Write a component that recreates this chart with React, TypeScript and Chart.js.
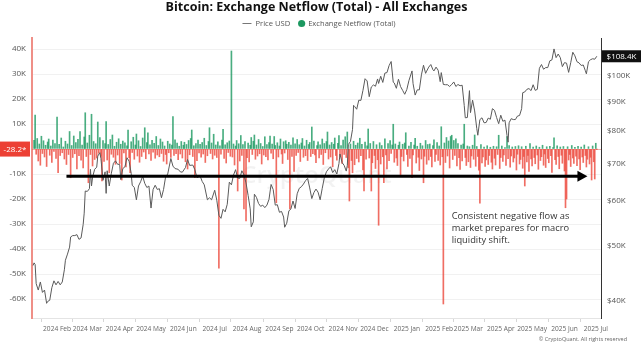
import React, { useEffect, useRef } from "react";
import { Chart, registerables } from "chart.js";

Chart.register(...registerables);

const FONT = "'Open Sans', 'Noto Sans', sans-serif";

const TITLE = "Bitcoin: Exchange Netflow (Total) - All Exchanges";
const LEGEND_PRICE = "Price USD";
const LEGEND_FLOW = "Exchange Netflow (Total)";
const NOTE_LINES = ["Consistent negative flow as", "market prepares for macro", "liquidity shift."];
const COPYRIGHT = "\u00A9 CryptoQuant. All rights reserved";
const WATERMARK = "CryptoQuant";

const X_START = "2024-01-08";
const X_END = "2025-07-06";
const monthTickDates = [
  "2024-02-01", "2024-03-01", "2024-04-01", "2024-05-01", "2024-06-01", "2024-07-01",
  "2024-08-01", "2024-09-01", "2024-10-01", "2024-11-01", "2024-12-01", "2025-01-01",
  "2025-02-01", "2025-03-01", "2025-04-01", "2025-05-01", "2025-06-01", "2025-07-01",
];
const monthTickLabels = [
  "2024 Feb", "2024 Mar", "2024 Apr", "2024 May", "2024 Jun", "2024 Jul",
  "2024 Aug", "2024 Sep", "2024 Oct", "2024 Nov", "2024 Dec", "2025 Jan",
  "2025 Feb", "2025 Mar", "2025 Apr", "2025 May", "2025 Jun", "2025 Jul",
];
const flowTicksK = [-60, -50, -40, -30, -20, -10, 0, 10, 20, 30, 40];
const flowRangeK = [-67.6, 44.4];
const priceTicksK = [40, 50, 60, 70, 80, 90, 100];
const priceRangeK = [37.2, 116.8];

const latestFlowK = -0.0282;
const latestFlowLabel = "-28.2*";
const latestPriceK = 108.4;
const latestPriceLabel = "$108.4K";

const arrowFrom = { date: "2024-02-10", k: -10.9 };
const arrowTo = { date: "2025-06-23", k: -10.9 };
const noteAnchor = { date: "2025-02-13", k: -26.8 };

// Exchange netflow, daily, in thousands of BTC, starting at flowStartDate
const flowStartDate = "2024-01-10";
const netflowK = [
  3.5, 13.6, -2.1, 4.2, -4.8, 2.0, -6.5, 5.1, -1.8, 3.3,
  -3.2, 1.5, -7.0, 2.8, 4.0, -2.5, 1.2, -5.4, 3.6, -1.0,
  2.2, -3.8, 12.8, -9.5, 1.9, -2.6, 4.4, -1.5, 0.8, -4.0,
  3.1, -6.2, 2.0, -2.2, 7.0, -11.5, 1.4, -3.4, 5.2, -1.9,
  2.6, -8.0, 3.9, -2.7, 7.0, -4.5, 1.6, -7.6, 4.8, 14.5,
  -3.0, 2.4, -13.5, 5.5, -2.2, 13.9, -6.8, 3.0, -4.2, 2.1,
  -3.6, 10.8, -1.7, 4.6, -2.9, -12.8, 3.4, -5.0, 2.2, 11.0,
  -4.4, 1.8, -9.5, 3.8, -2.1, 5.6, -3.3, 1.1, -6.1, 2.7,
  -2.4, 4.1, -5.8, 1.9, -12.4, 3.2, -1.6, 2.5, -7.2, 1.3,
  7.6, -3.5, -9.5, 2.9, -1.4, 4.7, -4.1, 1.6, 6.0, -2.8,
  3.3, -5.3, 1.0, -3.0, 4.4, -1.2, 8.5, -3.9, 2.6, 6.5,
  -2.0, 1.7, -4.6, 3.5, -1.3, 2.3, -3.7, 5.0, -2.4, 1.4,
  -3.1, 4.0, -1.8, 2.8, -4.9, 1.2, -2.2, -6.0, 3.1, -1.5,
  2.0, -3.4, 1.6, 13.0, -2.6, 3.7, -1.9, 2.4, -4.3, 1.1,
  -2.0, 3.0, -3.6, 1.5, 2.7, -5.1, 1.8, -8.0, 3.4, -2.3,
  4.2, 7.6, -3.0, 1.3, -11.5, 2.2, -4.7, 3.6, -1.6, 1.9,
  -3.3, 2.6, -2.0, 4.3, -5.4, 1.4, -2.7, 3.0, 8.5, -1.8,
  2.4, -4.0, 5.9, -2.5, 1.6, -3.4, 2.9, -47.7, 1.3, -2.1,
  3.6, 7.9, -3.8, 1.7, -5.6, 2.5, -1.4, 3.2, -2.9, 39.2,
  -3.2, 2.0, -6.4, 1.2, 3.4, -16.8, 2.1, -4.8, 5.4, -2.6,
  1.8, -24.0, 3.0, -28.8, -3.5, 2.4, -5.2, 1.5, 4.6, -2.2,
  3.1, 5.6, -4.1, 1.6, -2.8, 3.8, -1.9, 2.2, -6.0, 1.0,
  -2.4, 4.9, -3.1, 1.8, -4.4, 2.6, 5.2, -1.7, 2.0, -3.9,
  5.0, 1.4, -21.5, 2.5, -3.2, 1.2, 4.0, -2.0, -5.8, 2.9,
  -1.6, 3.3, 1.9, -4.2, 2.7, -24.0, 1.6, -3.0, 4.5, -9.0,
  2.1, -2.6, 3.8, -1.4, 1.7, -5.0, 2.4, 4.2, -3.3, 1.2,
  -2.7, 3.5, -4.6, 1.8, 2.6, -3.0, 8.8, -1.9, 3.2, -2.4,
  -5.5, 1.4, 2.9, -3.6, 1.7, -2.2, 4.0, -6.2, 2.2, -1.5,
  3.0, 6.8, -4.0, 1.6, -3.2, 2.6, -7.1, 1.9, 4.4, -2.6,
  -4.5, 2.3, 5.4, -3.0, 1.4, -5.8, 3.6, -2.2, 4.9, -3.4,
  6.8, -7.5, -20.8, 2.0, -4.6, -9.5, 3.1, -6.3, 1.5, -3.8,
  2.4, -5.2, 4.3, -2.7, 1.9, -8.4, -16.8, 2.8, -4.1, 1.3,
  8.0, -3.6, 2.2, -16.8, -5.5, 3.0, -2.6, -7.8, 1.7, -4.3,
  -30.5, 2.5, -6.0, 1.4, -3.1, -13.5, 4.1, -2.4, -8.0, 2.2,
  -4.7, 3.4, -1.8, 1.6, 9.9, -5.3, 2.0, -3.6, -6.6, 1.5,
  2.8, -10.8, -3.0, 1.9, -4.8, 2.4, 6.5, -2.2, -7.0, 1.2,
  -3.8, 2.7, -11.5, -2.4, 1.6, 4.3, -5.6, 1.1, -3.3, -8.6,
  2.3, -4.0, 1.3, -13.5, -2.9, 3.4, -6.1, 1.8, -4.4, 2.0,
  -3.0, -7.2, 1.4, 3.7, -5.0, -2.2, 2.6, -4.6, 1.2, -6.4,
  8.9, -3.1, -62.0, 2.4, -5.4, 4.6, -2.8, 3.2, -7.6, 5.0,
  5.5, -4.2, 3.4, -2.6, 4.1, -6.8, 2.2, -3.5, -8.2, 1.6,
  -4.8, 2.0, 9.9, -3.4, -6.6, 1.2, -5.1, 0.9, -7.4, -2.8,
  1.5, -4.1, 5.6, -6.9, 1.0, -3.0, -8.5, -21.7, 1.8, -5.6,
  -3.2, 0.8, -7.0, -4.4, 1.3, -6.2, -2.6, 0.7, -5.3, -8.0,
  1.1, -3.7, -6.4, 0.9, -2.2, 5.5, -7.8, -3.4, 1.2, -5.0,
  -2.4, 0.6, -6.6, 5.0, -3.9, 1.4, -7.3, -2.8, 0.8, -5.2,
  -3.6, 1.0, -8.4, -2.1, 1.3, -6.0, -4.2, 0.9, -7.7, -3.0,
  -14.8, 1.1, -5.2, -2.6, -9.0, 2.2, -4.0, -6.8, 0.8, -3.4,
  -5.9, 1.2, -2.4, -8.1, 0.7, -4.6, -3.1, 1.5, -6.5, -2.0,
  -7.4, 0.9, -3.8, -5.5, 1.1, -2.7, -9.4, 0.6, 4.5, -4.3,
  -6.2, 1.3, -3.0, -7.9, 0.8, -2.5, -5.7, 1.0, -8.8, -23.5,
  -20.0, 0.9, -4.4, -2.2, -7.0, 1.4, -3.6, -5.8, 0.7, -2.9,
  -6.7, 1.1, -4.0, -8.3, 0.8, -3.2, -5.4, 1.6, -2.6, -7.2,
  -4.1, 0.9, -6.0, -3.3, -12.4, 1.2, -5.1, -12.0, 2.3, -0.0282,
];

// BTC price, thousands of USD
const priceUSDK: [string, number][] = [
  ["2024-01-09", 46.1], ["2024-01-10", 46.6], ["2024-01-11", 46.3], ["2024-01-12", 42.8], ["2024-01-14", 41.7],
  ["2024-01-16", 43.1], ["2024-01-18", 41.3], ["2024-01-20", 41.7], ["2024-01-22", 39.5], ["2024-01-23", 39.8],
  ["2024-01-25", 40.0], ["2024-01-27", 42.1], ["2024-01-29", 43.3], ["2024-01-31", 42.6], ["2024-02-02", 43.2],
  ["2024-02-04", 42.6], ["2024-02-06", 43.1], ["2024-02-08", 45.3], ["2024-02-09", 47.1], ["2024-02-11", 48.3],
  ["2024-02-13", 49.7], ["2024-02-14", 51.8], ["2024-02-16", 52.1], ["2024-02-18", 52.1], ["2024-02-20", 52.3],
  ["2024-02-22", 51.3], ["2024-02-24", 51.6], ["2024-02-26", 54.5], ["2024-02-27", 57.1], ["2024-02-28", 62.5],
  ["2024-03-01", 62.4], ["2024-03-03", 63.1], ["2024-03-04", 68.3], ["2024-03-05", 63.8], ["2024-03-06", 66.1],
  ["2024-03-08", 68.3], ["2024-03-10", 68.9], ["2024-03-11", 72.1], ["2024-03-13", 73.1], ["2024-03-14", 71.4],
  ["2024-03-16", 65.3], ["2024-03-18", 67.6], ["2024-03-19", 61.9], ["2024-03-20", 67.9], ["2024-03-22", 63.8],
  ["2024-03-24", 67.2], ["2024-03-26", 70.0], ["2024-03-28", 70.7], ["2024-03-30", 69.7], ["2024-04-01", 69.7],
  ["2024-04-02", 65.5], ["2024-04-04", 68.5], ["2024-04-06", 69.0], ["2024-04-08", 71.6], ["2024-04-10", 70.6],
  ["2024-04-12", 67.2], ["2024-04-13", 64.0], ["2024-04-15", 63.4], ["2024-04-17", 60.3], ["2024-04-19", 63.8],
  ["2024-04-21", 64.9], ["2024-04-23", 66.4], ["2024-04-25", 64.5], ["2024-04-27", 63.4], ["2024-04-29", 63.8],
  ["2024-05-01", 58.3], ["2024-05-03", 62.9], ["2024-05-05", 64.0], ["2024-05-07", 62.9], ["2024-05-09", 63.1],
  ["2024-05-11", 60.8], ["2024-05-13", 62.9], ["2024-05-15", 66.3], ["2024-05-17", 67.0], ["2024-05-20", 71.4],
  ["2024-05-22", 69.2], ["2024-05-24", 68.5], ["2024-05-27", 68.3], ["2024-05-29", 67.6], ["2024-05-31", 67.5],
  ["2024-06-03", 68.8], ["2024-06-05", 71.1], ["2024-06-07", 69.4], ["2024-06-10", 69.5], ["2024-06-12", 68.2],
  ["2024-06-14", 66.0], ["2024-06-17", 66.5], ["2024-06-19", 65.0], ["2024-06-21", 64.1], ["2024-06-24", 60.3],
  ["2024-06-26", 60.8], ["2024-06-28", 60.3], ["2024-07-01", 62.7], ["2024-07-03", 60.2], ["2024-07-05", 56.6],
  ["2024-07-07", 55.9], ["2024-07-09", 58.0], ["2024-07-11", 57.4], ["2024-07-13", 59.2], ["2024-07-15", 64.8],
  ["2024-07-17", 64.1], ["2024-07-19", 66.7], ["2024-07-21", 68.2], ["2024-07-23", 65.9], ["2024-07-25", 65.8],
  ["2024-07-27", 67.9], ["2024-07-29", 66.8], ["2024-07-31", 64.6], ["2024-08-02", 61.4], ["2024-08-04", 58.1],
  ["2024-08-05", 54.0], ["2024-08-07", 55.1], ["2024-08-08", 61.7], ["2024-08-10", 60.9], ["2024-08-12", 59.4],
  ["2024-08-14", 58.7], ["2024-08-16", 59.0], ["2024-08-18", 58.4], ["2024-08-20", 59.0], ["2024-08-22", 60.4],
  ["2024-08-24", 64.2], ["2024-08-26", 62.9], ["2024-08-28", 59.0], ["2024-08-30", 59.1], ["2024-09-01", 57.3],
  ["2024-09-03", 57.5], ["2024-09-05", 56.2], ["2024-09-06", 53.9], ["2024-09-08", 54.8], ["2024-09-10", 57.6],
  ["2024-09-12", 58.1], ["2024-09-14", 60.0], ["2024-09-16", 58.2], ["2024-09-18", 61.8], ["2024-09-20", 63.2],
  ["2024-09-22", 63.6], ["2024-09-24", 64.3], ["2024-09-26", 65.2], ["2024-09-28", 65.8], ["2024-09-30", 63.3],
  ["2024-10-02", 60.6], ["2024-10-04", 62.1], ["2024-10-06", 63.0], ["2024-10-08", 62.2], ["2024-10-10", 60.3],
  ["2024-10-12", 63.2], ["2024-10-14", 66.0], ["2024-10-16", 67.6], ["2024-10-18", 68.4], ["2024-10-20", 69.0],
  ["2024-10-22", 67.4], ["2024-10-24", 68.2], ["2024-10-26", 67.0], ["2024-10-28", 69.9], ["2024-10-29", 72.7],
  ["2024-10-31", 70.2], ["2024-11-02", 69.4], ["2024-11-04", 67.8], ["2024-11-05", 69.4], ["2024-11-06", 75.6],
  ["2024-11-08", 76.5], ["2024-11-10", 80.4], ["2024-11-11", 88.7], ["2024-11-12", 88.3], ["2024-11-14", 87.3],
  ["2024-11-16", 90.6], ["2024-11-18", 90.5], ["2024-11-20", 94.3], ["2024-11-22", 98.9], ["2024-11-24", 98.0],
  ["2024-11-26", 91.9], ["2024-11-28", 95.6], ["2024-11-30", 96.4], ["2024-12-02", 95.9], ["2024-12-04", 98.8],
  ["2024-12-05", 97.0], ["2024-12-07", 99.9], ["2024-12-09", 97.4], ["2024-12-11", 101.2], ["2024-12-13", 101.4],
  ["2024-12-15", 104.3], ["2024-12-17", 106.1], ["2024-12-19", 97.5], ["2024-12-20", 97.2], ["2024-12-22", 95.1],
  ["2024-12-24", 98.7], ["2024-12-26", 95.8], ["2024-12-28", 94.3], ["2024-12-30", 92.8], ["2025-01-01", 94.6],
  ["2025-01-03", 98.1], ["2025-01-06", 102.1], ["2025-01-07", 96.9], ["2025-01-09", 92.5], ["2025-01-11", 94.5],
  ["2025-01-13", 94.5], ["2025-01-15", 100.5], ["2025-01-17", 104.5], ["2025-01-19", 101.1], ["2025-01-20", 102.0],
  ["2025-01-22", 103.7], ["2025-01-24", 104.8], ["2025-01-26", 102.6], ["2025-01-27", 102.1], ["2025-01-29", 103.7],
  ["2025-01-31", 102.4], ["2025-02-02", 97.7], ["2025-02-03", 101.4], ["2025-02-05", 96.6], ["2025-02-07", 96.5],
  ["2025-02-09", 96.5], ["2025-02-11", 95.8], ["2025-02-13", 96.6], ["2025-02-15", 97.6], ["2025-02-17", 95.8],
  ["2025-02-19", 96.6], ["2025-02-21", 96.1], ["2025-02-23", 96.3], ["2025-02-25", 88.7], ["2025-02-26", 84.3],
  ["2025-02-28", 84.4], ["2025-03-02", 94.2], ["2025-03-03", 86.1], ["2025-03-05", 90.6], ["2025-03-07", 86.7],
  ["2025-03-09", 80.7], ["2025-03-10", 78.5], ["2025-03-12", 83.7], ["2025-03-14", 84.3], ["2025-03-16", 82.6],
  ["2025-03-18", 82.7], ["2025-03-20", 84.2], ["2025-03-22", 83.8], ["2025-03-24", 87.5], ["2025-03-26", 86.9],
  ["2025-03-28", 84.4], ["2025-03-30", 82.3], ["2025-04-01", 85.2], ["2025-04-03", 83.1], ["2025-04-05", 83.5],
  ["2025-04-07", 78.4], ["2025-04-08", 76.3], ["2025-04-09", 82.6], ["2025-04-11", 84.0], ["2025-04-13", 83.7],
  ["2025-04-15", 83.7], ["2025-04-17", 84.9], ["2025-04-19", 85.1], ["2025-04-21", 87.5], ["2025-04-22", 93.4],
  ["2025-04-24", 93.7], ["2025-04-26", 94.7], ["2025-04-28", 95.0], ["2025-04-30", 94.2], ["2025-05-02", 96.5],
  ["2025-05-04", 94.3], ["2025-05-06", 94.7], ["2025-05-08", 103.2], ["2025-05-10", 104.8], ["2025-05-12", 102.8],
  ["2025-05-14", 103.5], ["2025-05-16", 103.5], ["2025-05-18", 106.4], ["2025-05-20", 106.8], ["2025-05-22", 111.7],
  ["2025-05-24", 107.8], ["2025-05-26", 109.4], ["2025-05-28", 107.8], ["2025-05-30", 103.9], ["2025-06-01", 105.6],
  ["2025-06-03", 105.4], ["2025-06-05", 101.5], ["2025-06-07", 105.6], ["2025-06-09", 110.2], ["2025-06-11", 108.6],
  ["2025-06-13", 106.0], ["2025-06-15", 105.5], ["2025-06-17", 104.4], ["2025-06-19", 104.6], ["2025-06-21", 102.2],
  ["2025-06-22", 100.9], ["2025-06-24", 106.0], ["2025-06-26", 106.9], ["2025-06-28", 107.3], ["2025-06-30", 107.1],
  ["2025-07-02", 108.4],
];

const COLORS = {
  green: "rgba(28,152,96,0.8)",
  greenLegend: "rgb(28,152,96)",
  red: "rgba(236,72,60,0.8)",
  price: "#5a5a5a",
  flowAxis: "#ef8f87",
  text: "#555555",
};

const EPOCH = Date.parse("2024-01-01");
const dayOf = (s: string) => Math.round((Date.parse(s) - EPOCH) / 86400000);

const overlay = {
  id: "overlay",
  beforeDatasetsDraw(chart: any) {
    const { ctx, chartArea: a, scales } = chart;
    ctx.save();
    ctx.font = `600 24px ${FONT}`;
    ctx.fillStyle = "rgba(0,0,0,0.05)";
    ctx.textAlign = "center";
    ctx.textBaseline = "middle";
    ctx.fillText(WATERMARK, (a.left + a.right) / 2, (a.top + a.bottom) / 2 - 2);
    const y = Math.round(scales.yFlow.getPixelForValue(latestFlowK)) + 0.5;
    ctx.strokeStyle = "rgba(236,90,80,0.45)";
    ctx.lineWidth = 1;
    ctx.beginPath();
    ctx.moveTo(a.left, y);
    ctx.lineTo(a.right, y);
    ctx.stroke();
    ctx.restore();
  },
  afterDatasetsDraw(chart: any) {
    const { ctx, scales } = chart;
    const x1 = scales.x.getPixelForValue(dayOf(arrowFrom.date));
    const x2 = scales.x.getPixelForValue(dayOf(arrowTo.date));
    const y = scales.yFlow.getPixelForValue(arrowFrom.k);
    ctx.save();
    ctx.strokeStyle = "#000";
    ctx.fillStyle = "#000";
    ctx.lineWidth = 3;
    ctx.beginPath();
    ctx.moveTo(x1, y);
    ctx.lineTo(x2 - 8, y);
    ctx.stroke();
    ctx.beginPath();
    ctx.moveTo(x2, y);
    ctx.lineTo(x2 - 10, y - 5.5);
    ctx.lineTo(x2 - 10, y + 5.5);
    ctx.closePath();
    ctx.fill();

    const nx = scales.x.getPixelForValue(dayOf(noteAnchor.date));
    const ny = scales.yFlow.getPixelForValue(noteAnchor.k);
    ctx.font = `9.3px ${FONT}`;
    ctx.fillStyle = "#333";
    ctx.textAlign = "left";
    ctx.textBaseline = "middle";
    NOTE_LINES.forEach((t, i) => ctx.fillText(t, nx, ny + i * 12.4));
    ctx.restore();
  },
  afterDraw(chart: any) {
    const { ctx, chartArea: a, scales, width } = chart;
    ctx.save();
    ctx.font = `bold 12.5px ${FONT}`;
    ctx.fillStyle = "#111";
    ctx.textAlign = "center";
    ctx.textBaseline = "alphabetic";
    ctx.fillText(TITLE, 316.5, 11);

    ctx.font = `7.6px ${FONT}`;
    const w1 = ctx.measureText(LEGEND_PRICE).width;
    const w2 = ctx.measureText(LEGEND_FLOW).width;
    const total = 9 + 4 + w1 + 8 + 7 + 3 + w2;
    let lx = 319 - total / 2;
    const ly = 23.5;
    ctx.strokeStyle = "#777";
    ctx.lineWidth = 1;
    ctx.beginPath();
    ctx.moveTo(lx, ly);
    ctx.lineTo(lx + 9, ly);
    ctx.stroke();
    lx += 13;
    ctx.fillStyle = "#555";
    ctx.textAlign = "left";
    ctx.textBaseline = "middle";
    ctx.fillText(LEGEND_PRICE, lx, ly);
    lx += w1 + 8;
    ctx.fillStyle = COLORS.greenLegend;
    ctx.beginPath();
    ctx.arc(lx + 3.5, ly, 3.6, 0, Math.PI * 2);
    ctx.fill();
    lx += 10;
    ctx.fillStyle = "#555";
    ctx.fillText(LEGEND_FLOW, lx, ly);

    const fy = scales.yFlow.getPixelForValue(latestFlowK);
    ctx.fillStyle = "rgb(236,64,52)";
    ctx.fillRect(0, fy - 7.5, a.left - 2, 15);
    ctx.fillStyle = "#fff";
    ctx.font = `8px ${FONT}`;
    ctx.textAlign = "center";
    ctx.fillText(latestFlowLabel, (a.left - 2) / 2, fy + 0.5);

    const py = scales.yPrice.getPixelForValue(latestPriceK);
    ctx.fillStyle = "#111";
    ctx.fillRect(a.right + 1, py - 6, width - a.right - 1, 12);
    ctx.fillStyle = "#fff";
    ctx.font = `8px ${FONT}`;
    ctx.textAlign = "center";
    ctx.fillText(latestPriceLabel, (a.right + 1 + width) / 2, py + 0.5);

    ctx.font = `5.5px ${FONT}`;
    ctx.fillStyle = "#666";
    ctx.textAlign = "right";
    ctx.fillText(COPYRIGHT, 627, 339);
    ctx.restore();
  },
};

export default function App() {
  const ref = useRef<HTMLCanvasElement | null>(null);
  useEffect(() => {
    if (!ref.current) return;
    const flowStart = dayOf(flowStartDate);
    const monthDays = monthTickDates.map(dayOf);
    const chart = new Chart(ref.current, {
      type: "bar",
      data: {
        datasets: [
          {
            type: "line",
            label: LEGEND_PRICE,
            data: priceUSDK.map(([d, v]) => ({ x: dayOf(d), y: v })),
            xAxisID: "x",
            yAxisID: "yPrice",
            borderColor: COLORS.price,
            borderWidth: 1,
            pointRadius: 0,
            tension: 0,
            order: 0,
          } as any,
          {
            type: "bar",
            label: LEGEND_FLOW,
            data: netflowK.map((v, i) => ({ x: flowStart + i, y: v })),
            xAxisID: "x",
            yAxisID: "yFlow",
            backgroundColor: netflowK.map((v) => (v >= 0 ? COLORS.green : COLORS.red)),
            barThickness: 1,
            order: 1,
          } as any,
        ],
      },
      options: {
        responsive: false,
        animation: false,
        devicePixelRatio: 1,
        layout: { padding: { top: 38, left: 0, right: 0, bottom: 0 } },
        plugins: { legend: { display: false }, title: { display: false }, tooltip: { enabled: false } },
        scales: {
          x: {
            type: "linear",
            offset: false,
            min: dayOf(X_START),
            max: dayOf(X_END),
            afterFit: (s: any) => { s.height = 36; },
            afterBuildTicks: (s: any) => { s.ticks = monthDays.map((v) => ({ value: v })); },
            ticks: {
              autoSkip: false,
              maxRotation: 0,
              padding: 3,
              color: "#666",
              font: { size: 6.6, family: FONT },
              callback: (_v: any, i: number) => monthTickLabels[i],
            },
            grid: { drawOnChartArea: false, drawTicks: true, tickLength: 4, color: "#d6d6d6" },
            border: { color: "#e4e4e4" },
          },
          yFlow: {
            type: "linear",
            position: "left",
            min: flowRangeK[0],
            max: flowRangeK[1],
            afterFit: (s: any) => { s.width = 32; },
            afterBuildTicks: (s: any) => { s.ticks = flowTicksK.map((v) => ({ value: v })); },
            ticks: {
              padding: 6,
              color: COLORS.text,
              font: { size: 8, family: FONT },
              callback: (v: any) => (v === 0 ? "" : `${v}K`),
            },
            grid: { color: "#f1f1f1", drawTicks: false },
            border: { color: COLORS.flowAxis, width: 2 },
          },
          yPrice: {
            type: "logarithmic",
            position: "right",
            min: priceRangeK[0],
            max: priceRangeK[1],
            afterFit: (s: any) => { s.width = 40; },
            afterBuildTicks: (s: any) => { s.ticks = priceTicksK.map((v) => ({ value: v })); },
            ticks: {
              padding: 6,
              color: COLORS.text,
              font: { size: 8, family: FONT },
              callback: (v: any) => `$${v}K`,
            },
            grid: { drawOnChartArea: false, drawTicks: false },
            border: { color: "#333", width: 1 },
          },
        },
      } as any,
      plugins: [overlay],
    });
    return () => chart.destroy();
  }, []);
  return (
    <div style={{ position: "fixed", left: 0, top: 0, width: 641, height: 354, background: "#fff" }}>
      <canvas ref={ref} width={641} height={354} style={{ display: "block" }} />
    </div>
  );
}
